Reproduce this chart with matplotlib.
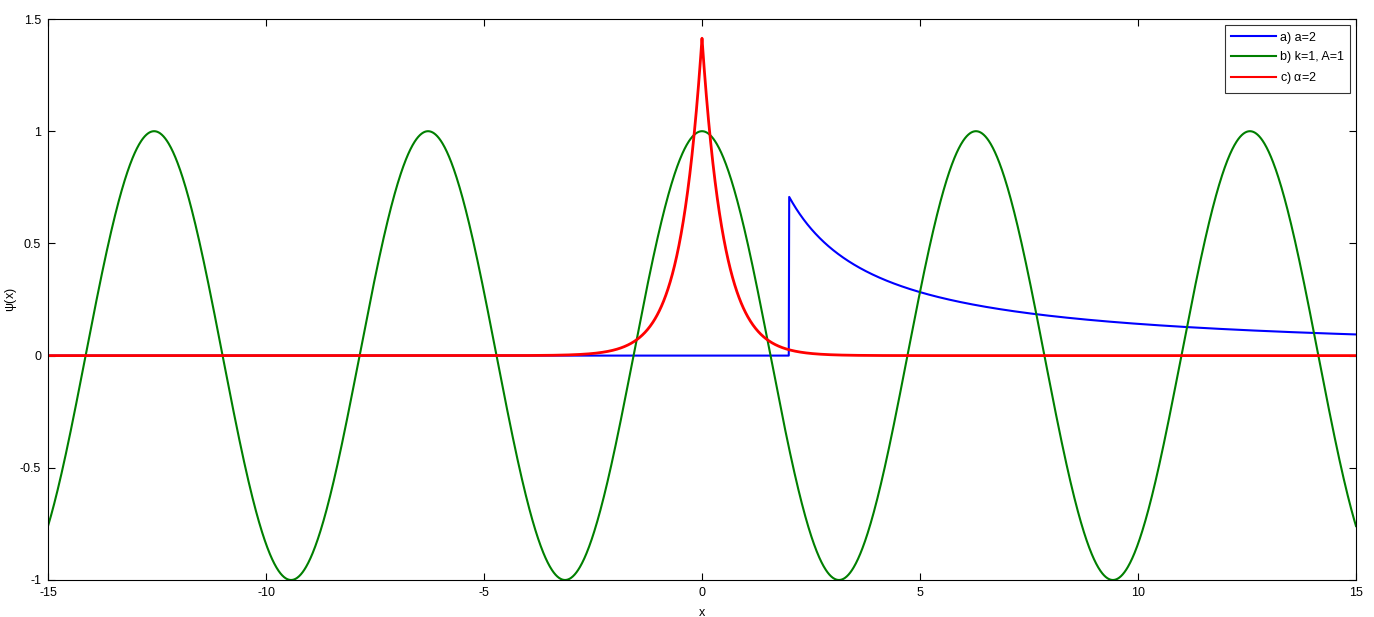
import numpy as np
import matplotlib
matplotlib.use('Agg')
import matplotlib.pyplot as plt

# parameters
a = 2        # a) step-decay wave function
k = 1        # b) plane wave
A = 1
alpha = 2    # c) bound state of delta potential

labels = ['a) a=2', 'b) k=1, A=1', r'c) $\alpha$=2']
colors = ['#0000ff', '#007f00', '#ff0000']
xticks = [-15, -10, -5, 0, 5, 10, 15]
yticks = [-1, -0.5, 0, 0.5, 1, 1.5]

x = np.linspace(-15, 15, 3001)
psi_a = np.where(x >= a, np.sqrt(a) / np.where(x == 0, 1, x), 0.0)
psi_b = A * np.cos(k * x)
psi_c = np.sqrt(alpha) * np.exp(-alpha * np.abs(x))

plt.rcParams['font.family'] = ['Liberation Sans', 'DejaVu Sans']
plt.rcParams['mathtext.fontset'] = 'custom'
plt.rcParams['mathtext.rm'] = 'Liberation Sans'
plt.rcParams['mathtext.it'] = 'Liberation Sans'

fig = plt.figure(figsize=(13.74, 6.17), dpi=100)
ax = fig.add_axes([48 / 1374, 1 - 580 / 617, (1356 - 48) / 1374, (580 - 19) / 617])

ax.plot(x, psi_a, color=colors[0], lw=1.5, label=labels[0])
ax.plot(x, psi_b, color=colors[1], lw=1.5, label=labels[1])
ax.plot(x, psi_c, color=colors[2], lw=2.0, label=labels[2])

ax.set_xlim(-15, 15)
ax.set_ylim(-1, 1.5)
ax.set_xticks(xticks)
ax.set_yticks(yticks)
ax.set_xticklabels(['-15', '-10', '-5', '0', '5', '10', '15'])
ax.set_yticklabels(['-1', '-0.5', '0', '0.5', '1', '1.5'])
ax.tick_params(direction='in', top=True, right=True, length=5, width=0.8,
               labelsize=9, pad=5)
for s in ax.spines.values():
    s.set_linewidth(0.8)

ax.set_xlabel('x', fontsize=9, labelpad=6)
ax.set_ylabel(r'$\psi$(x)', fontsize=9, va='center')
ax.yaxis.set_label_coords(-0.028, 0.5)

leg = ax.legend(loc='upper right', fontsize=9, frameon=True, fancybox=False,
                edgecolor='black', borderaxespad=0.5, handlelength=3.6,
                labelspacing=0.6, borderpad=0.5, handletextpad=0.3)
leg.get_frame().set_linewidth(0.8)
for line in leg.get_lines():
    line.set_linewidth(1.5)

fig.savefig('out.png', dpi=100)
